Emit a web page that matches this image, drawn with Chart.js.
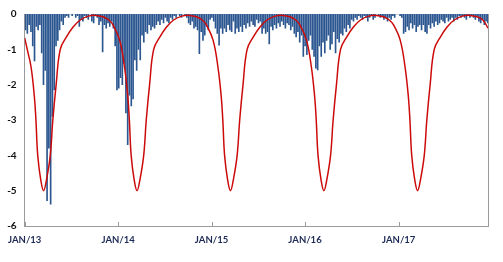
<!DOCTYPE html>
<html>
<head>
<meta charset="utf-8">
<script src="https://cdn.jsdelivr.net/npm/chart.js@4"></script>
<style>
  body { margin: 0; background: #fff; }
  #wrap { width: 503px; height: 262px; }
</style>
</head>
<body>
<div id="wrap"><canvas id="chart" width="503" height="262"></canvas></div>
<script>
// x axis in days since 1 Jan 2013
const tickDays = [0, 365, 730, 1095, 1461];
const tickLabels = ['JAN/13', 'JAN/14', 'JAN/15', 'JAN/16', 'JAN/17'];
const lastDay = 1810;

// weekly bars (week 0 starts 1 Jan 2013)
const weeklyValues = [
  -0.45, -0.55, -0.3, -0.5, -0.9, -1.33, -0.35, -0.45, -0.3, -1.1,
  -2.0, -1.6, -5.28, -3.8, -5.38, -2.9, -2.15, -0.9, -0.75, -0.45,
  -0.2, -0.3, -0.1, -0.05, -0.1, 0, -0.05, 0, -0.1, -0.05,
  -0.35, -0.15, -0.2, -0.05, -0.1, -0.15, 0, -0.2, -0.25, -0.05,
  -0.1, -0.3, -0.2, -1.07, -0.3, -0.4, -0.25, -0.35, -0.2, -0.4,
  -0.9, -2.15, -2.1, -1.8, -2.0, -1.4, -2.8, -3.7, -2.3, -2.6,
  -2.4, -1.3, -1.6, -1.0, -1.3, -0.6, -0.8, -0.5, -0.55, -0.3,
  -0.45, -0.35, -0.4, -0.3, -0.2, -0.3, -0.15, -0.25, -0.1, -0.2,
  -0.25, -0.1, -0.15, -0.05, -0.1, 0, -0.05, -0.1, 0, -0.05,
  -0.1, -0.25, -0.3, -0.2, -0.4, -0.35, -0.45, -1.12, -0.5, -0.75,
  -0.6, -0.35, -0.45, -0.15, -0.1, -0.2, -0.4, -0.55, -0.88, -0.4,
  -0.55, -0.4, -0.5, -0.3, -0.45, -0.5, -0.2, -0.55, -0.4, -0.5,
  -0.35, -0.5, -0.3, -0.4, -0.25, -0.35, -0.2, -0.3, -0.35, -0.15,
  -0.25, -0.2, -0.55, -0.4, -0.55, -0.5, -0.85, -0.35, -0.45, -0.3,
  -0.4, -0.25, -0.35, -0.2, -0.3, -0.4, -0.25, -0.3, -0.45, -0.35,
  -0.55, -0.65, -0.5, -0.8, -0.6, -1.2, -0.9, -1.15, -0.75, -0.6,
  -1.0, -1.2, -1.53, -1.58, -0.9, -1.2, -0.8, -1.1, -0.75, -0.6,
  -1.0, -0.85, -0.5, -1.1, -0.7, -0.8, -0.55, -0.6, -0.4, -0.5,
  -0.3, -0.4, -0.15, -0.2, -0.1, -0.15, -0.05, -0.1, -0.15, -0.05,
  -0.1, -0.2, -0.1, -0.05, -0.15, -0.1, 0, -0.05, -0.1, -0.05,
  -0.15, -0.1, -0.2, -0.1, -0.15, -0.05, -0.1, 0, 0, -0.05,
  -0.1, -0.55, -0.5, -0.35, -0.45, -0.25, -0.4, -0.3, -0.5, -0.35,
  -0.3, -0.45, -0.3, -0.5, -0.55, -0.3, -0.4, -0.25, -0.35, -0.2,
  -0.3, -0.25, -0.15, -0.2, -0.25, -0.1, -0.2, -0.15, -0.1, -0.2,
  -0.1, -0.15, -0.05, -0.1, -0.05, -0.1, -0.15, -0.05, -0.1, -0.05,
  -0.1, -0.15, -0.05, -0.2, -0.25, -0.15, -0.3, -0.2, -0.25
];

// red seasonal curve
const curveDays = [
  0, 10, 25, 38, 44, 51, 63, 74, 85, 100, 110, 123, 139, 164, 190, 217, 249, 279, 306, 329,
  345, 371, 390, 403, 409, 416, 428, 439, 450, 465, 475, 488, 504, 529, 555, 582, 614, 644, 671, 694,
  710, 736, 755, 768, 774, 781, 793, 804, 815, 830, 840, 853, 869, 894, 920, 947, 979, 1009, 1036, 1059,
  1075, 1101, 1120, 1133, 1139, 1146, 1158, 1169, 1180, 1195, 1205, 1218, 1234, 1259, 1285, 1312, 1344, 1374, 1401, 1424,
  1441, 1467, 1486, 1499, 1505, 1512, 1524, 1535, 1546, 1561, 1571, 1584, 1600, 1625, 1651, 1678, 1710, 1740, 1767, 1790, 1810
];
const curveValues = [
  -0.68, -1.0, -1.5, -2.35, -3.0, -4.0, -4.7, -5.0, -4.7, -4.0, -3.0, -2.0, -1.0, -0.64, -0.36, -0.17, -0.06, -0.04, -0.08, -0.17,
  -0.31, -0.74, -1.5, -2.35, -3.0, -4.0, -4.7, -5.0, -4.7, -4.0, -3.0, -2.0, -1.0, -0.64, -0.36, -0.17, -0.06, -0.04, -0.08, -0.17,
  -0.31, -0.74, -1.5, -2.35, -3.0, -4.0, -4.7, -5.0, -4.7, -4.0, -3.0, -2.0, -1.0, -0.64, -0.36, -0.17, -0.06, -0.04, -0.08, -0.17,
  -0.31, -0.74, -1.5, -2.35, -3.0, -4.0, -4.7, -5.0, -4.7, -4.0, -3.0, -2.0, -1.0, -0.64, -0.36, -0.17, -0.06, -0.04, -0.08, -0.17,
  -0.31, -0.74, -1.5, -2.35, -3.0, -4.0, -4.7, -5.0, -4.7, -4.0, -3.0, -2.0, -1.0, -0.64, -0.36, -0.17, -0.06, -0.04, -0.08, -0.17, -0.4
];

const barPoints = weeklyValues.map((v, i) => ({ x: i * 7 + 3.5, y: v }));
const curvePoints = curveDays.map((d, i) => ({ x: d, y: curveValues[i] }));

// small tick marks pointing up from the x axis, plus the right frame line
const frame = {
  id: 'frame',
  afterDraw(chart) {
    const { ctx, chartArea, scales } = chart;
    ctx.save();
    ctx.strokeStyle = '#9a9a9a';
    ctx.lineWidth = 1;
    ctx.beginPath();
    tickDays.forEach(d => {
      const px = Math.round(scales.x.getPixelForValue(d)) + 0.5;
      ctx.moveTo(px, chartArea.bottom);
      ctx.lineTo(px, chartArea.bottom - 4);
    });
    const rx = Math.round(chartArea.right) + 0.5;
    ctx.moveTo(rx, chartArea.top);
    ctx.lineTo(rx, chartArea.bottom);
    ctx.stroke();
    ctx.restore();
  }
};

new Chart(document.getElementById('chart'), {
  type: 'bar',
  data: {
    datasets: [
      {
        type: 'line',
        data: curvePoints,
        borderColor: '#cc0a0a',
        borderWidth: 1.5,
        pointRadius: 0,
        tension: 0.4,
        order: 0
      },
      {
        type: 'bar',
        data: barPoints,
        backgroundColor: '#2b5690',
        barThickness: 1,
        order: 1
      }
    ]
  },
  options: {
    responsive: false,
    animation: false,
    layout: { padding: { top: 14, right: 15, left: 0, bottom: 0 } },
    plugins: { legend: { display: false }, tooltip: { enabled: false } },
    scales: {
      x: {
        type: 'linear',
        offset: false,
        min: 0,
        max: lastDay,
        grid: { display: false, drawTicks: false },
        border: { color: '#9a9a9a', width: 1 },
        afterBuildTicks: s => { s.ticks = tickDays.map(v => ({ value: v })); },
        afterFit: s => { s.height = 36; },
        ticks: {
          autoSkip: false,
          maxRotation: 0,
          padding: 8,
          color: '#1c2a55',
          font: { family: 'Lato', size: 9.5, weight: 'bold' },
          callback: (v, i) => tickLabels[i]
        }
      },
      y: {
        min: -6,
        max: 0,
        grid: { display: false, drawTicks: false },
        border: { color: '#9a9a9a', width: 1 },
        afterFit: s => { s.width = 21; },
        ticks: {
          stepSize: 1,
          padding: 8,
          color: '#111',
          font: { family: 'Lato', size: 10, weight: 'bold' }
        }
      }
    }
  },
  plugins: [frame]
});
</script>
</body>
</html>
